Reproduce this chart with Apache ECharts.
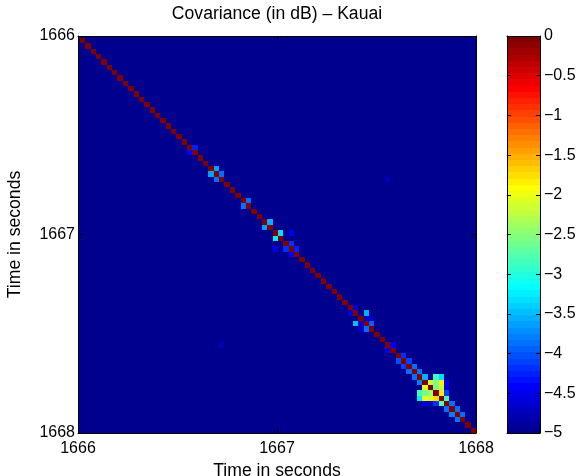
<!DOCTYPE html>
<html><head><meta charset="utf-8">
<script src="https://cdn.jsdelivr.net/npm/echarts/dist/echarts.min.js"></script>
<style>html,body{margin:0;padding:0;background:#fff}#c{width:579px;height:476px}</style>
</head><body><div id="c"></div>
<script>
// ---------- data ----------
const titleText = 'Covariance (in dB) \u2013 Kauai';
const axisNameText = 'Time in seconds';
const timeTicks = [1666, 1667, 1668];
const colorTicks = [-5, -4.5, -4, -3.5, -3, -2.5, -2, -1.5, -1, -0.5, 0];
// time grid of the matrix cells (first cell starts slightly before 1666)
const cellStartTime = 1665.9832;
const cellStep = 0.026891;
// diagonal values (dB) for cells 0..74
const diagonalValues = [
  0,0,0,0,0,0,0,0,0,0, 0,0,0,0,0,0,0,0,0,0,
  0,0,0,0,0,0,0,0,0,0, 0,0,0,0,0,0,0,0,0,0,
  0,0,0,0,0,0,0,0,0,0, 0,0,0,0,0,0,0,0,0,0,
  0,0,0,0,0,0,0,0,0,0, 0,0,0,0,0
];
// off-diagonal cells [column, row, value dB]; every other cell is at the floor (-5 dB)
const offDiagonalCells = [
  [22,21,-4.25],[21,22,-4.4],
  [26,25,-3.6],[25,26,-3.65],[27,26,-3.9],[26,27,-3.9],
  [32,31,-3.9],[31,32,-3.9],
  [36,35,-3.55],[35,36,-3.6],
  [38,37,-3.35],[37,38,-3.25],
  [40,37,-4.5],[37,40,-4.5],
  [40,39,-4.2],[39,40,-4.2],
  [41,40,-4.25],[40,41,-4.45],
  [58,27,-4.75],[27,58,-4.75],
  [52,51,-4.6],[51,52,-4.6],
  [54,52,-3.55],[52,54,-3.5],
  [54,53,-4.65],[53,54,-4.65],
  [55,54,-3.95],[54,55,-3.9],
  [55,53,-4.65],[53,55,-4.65],
  [59,58,-4.5],[58,59,-4.55],
  [61,60,-4.2],[60,61,-4.0],
  [62,61,-4.1],[61,62,-4.1],
  [63,62,-3.9],[62,63,-3.9],
  [64,63,-3.9],[63,64,-3.9],
  [65,64,-3.54],[64,65,-3.79],
  [67,64,-2.83],[64,67,-2.85],
  [68,64,-3.3],[64,68,-3.25],
  [66,65,-2.15],[65,66,-2.0],
  [67,65,-2.54],[65,67,-2.6],
  [68,65,-1.8],[65,68,-2.0],
  [69,65,-4.5],[65,69,-4.55],
  [67,66,-2.54],[66,67,-2.4],
  [68,66,-2.15],[66,68,-2.15],
  [69,66,-4.55],[66,69,-4.7],
  [68,67,-1.875],[67,68,-1.75],
  [69,67,-4.1],[67,69,-4.2],
  [69,68,-2.83],[68,69,-2.8],
  [70,69,-3.9],[69,70,-3.9],
  [71,70,-3.9],[70,71,-3.8],
  [72,71,-3.9],[71,72,-3.9]
];

// ---------- colormap (MATLAB jet, 64 levels) ----------
function jetLevel(i){
  let r=0,g=0,b=0;
  if(i<8){b=0.5625+0.0625*i;}
  else if(i<24){g=0.0625*(i-7);b=1;}
  else if(i<40){r=0.0625*(i-23);g=1;b=1-0.0625*(i-23);}
  else if(i<56){r=1;g=1-0.0625*(i-39);}
  else {r=1-0.0625*(i-55);}
  return 'rgb('+Math.round(r*255)+','+Math.round(g*255)+','+Math.round(b*255)+')';
}
const jet = [];
for(let i=0;i<64;i++) jet.push(jetLevel(i));
const cMin = colorTicks[0], cMax = colorTicks[colorTicks.length-1];
function colorOf(v){
  let i = Math.floor((v-cMin)/(cMax-cMin)*64);
  if(i>63) i=63; if(i<0) i=0;
  return jet[i];
}

const cells = diagonalValues.map((v,k)=>[k,k,v]).concat(offDiagonalCells);

const FONT = 'Liberation Sans';
const minus = v => v===0 ? '0' : (v<0 ? '\u2212'+Math.abs(v) : String(v));
const plain = v => String(v);

const chart = echarts.init(document.getElementById('c'), null, {renderer:'canvas'});
const mainAxisCommon = {
  type:'value', min:timeTicks[0], max:timeTicks[timeTicks.length-1], interval:timeTicks[1]-timeTicks[0],
  splitLine:{show:false}, z:10,
  axisLine:{show:true, onZero:false, lineStyle:{color:'#000', width:1}},
  axisTick:{show:true, inside:true, length:5, lineStyle:{color:'#000'}},
  axisLabel:{show:false}
};
const cbAxisCommon = {
  gridIndex:1, type:'value', z:10, splitLine:{show:false},
  axisLine:{show:true, onZero:false, lineStyle:{color:'#000', width:1}},
  axisLabel:{show:false}
};
chart.setOption({
  animation:false,
  backgroundColor:'#fff',
  title:{
    text:titleText, left:277, top:5, textAlign:'center', padding:0,
    textStyle:{fontFamily:FONT, fontSize:17.6, fontWeight:'normal', color:'#000'}
  },
  grid:[
    {left:78, top:36, width:398, height:397, show:true, backgroundColor:jet[0], borderWidth:0,
     containLabel:false, outerBoundsMode:'none'},
    {left:507, top:36, width:33, height:397, show:false, containLabel:false, outerBoundsMode:'none'}
  ],
  xAxis:[
    Object.assign({}, mainAxisCommon, {gridIndex:0, position:'bottom',
      name:axisNameText, nameLocation:'middle', nameGap:22,
      nameTextStyle:{fontFamily:FONT, fontSize:17.6, color:'#000', verticalAlign:'top'},
      axisLabel:{show:true, margin:8, fontFamily:FONT, fontSize:16, color:'#000', formatter:plain}}),
    Object.assign({}, mainAxisCommon, {gridIndex:0, position:'top'}),
    Object.assign({}, cbAxisCommon, {min:0, max:1, position:'bottom', axisTick:{show:false}}),
    Object.assign({}, cbAxisCommon, {min:0, max:1, position:'top', axisTick:{show:false}})
  ],
  yAxis:[
    Object.assign({}, mainAxisCommon, {gridIndex:0, position:'left', inverse:true,
      name:axisNameText, nameLocation:'middle', nameGap:54, nameRotate:90,
      nameTextStyle:{fontFamily:FONT, fontSize:17.6, color:'#000'},
      axisLabel:{show:true, margin:3, fontFamily:FONT, fontSize:16, color:'#000', formatter:plain}}),
    Object.assign({}, mainAxisCommon, {gridIndex:0, position:'right', inverse:true}),
    Object.assign({}, cbAxisCommon, {min:cMin, max:cMax, interval:colorTicks[1]-colorTicks[0], position:'right',
      axisTick:{show:true, inside:true, length:4, lineStyle:{color:'#000'}},
      axisLabel:{show:true, margin:4, fontFamily:FONT, fontSize:16, color:'#000', formatter:minus}}),
    Object.assign({}, cbAxisCommon, {min:cMin, max:cMax, interval:colorTicks[1]-colorTicks[0], position:'left',
      axisTick:{show:true, inside:true, length:4, lineStyle:{color:'#000'}}})
  ],
  series:[
    {
      type:'custom', xAxisIndex:0, yAxisIndex:0, clip:true, z:2,
      data:cells,
      renderItem:function(params, api){
        const col=api.value(0), row=api.value(1), v=api.value(2);
        const tx0=cellStartTime+col*cellStep, ty0=cellStartTime+row*cellStep;
        const p0=api.coord([tx0, ty0]);
        const p1=api.coord([tx0+cellStep, ty0+cellStep]);
        const x0=Math.round(Math.min(p0[0],p1[0])), x1=Math.round(Math.max(p0[0],p1[0]));
        const y0=Math.round(Math.min(p0[1],p1[1])), y1=Math.round(Math.max(p0[1],p1[1]));
        const cs=params.coordSys;
        const shape=echarts.graphic.clipRectByRect({x:x0,y:y0,width:x1-x0,height:y1-y0},
          {x:cs.x,y:cs.y,width:cs.width,height:cs.height});
        if(!shape) return null;
        return {type:'rect', shape:shape, style:{fill:colorOf(v)}};
      }
    },
    {
      type:'custom', xAxisIndex:2, yAxisIndex:2, z:2,
      data:[[0, cMin, cMax]],
      renderItem:function(params, api){
        const p0=api.coord([0, api.value(1)]);
        const p1=api.coord([1, api.value(2)]);
        const stops=[];
        for(let i=0;i<64;i++){
          stops.push({offset:i/64, color:jet[i]});
          stops.push({offset:(i+1)/64, color:jet[i]});
        }
        return {type:'rect',
          shape:{x:p0[0], y:p1[1], width:p1[0]-p0[0], height:p0[1]-p1[1]},
          style:{fill:new echarts.graphic.LinearGradient(0,1,0,0,stops)}};
      }
    }
  ]
});
</script></body></html>
